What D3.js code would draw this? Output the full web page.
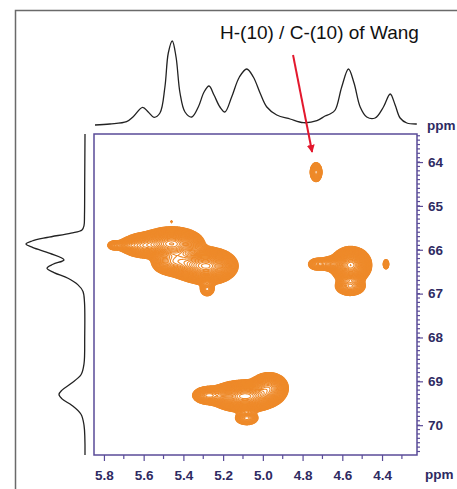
<!DOCTYPE html>
<html><head><meta charset="utf-8">
<script src="https://cdn.jsdelivr.net/npm/d3@7"></script>
<style>body{margin:0;background:#fff} svg{display:block}</style>
</head><body>
<svg id="c" width="457" height="489"></svg>
<script>
// ---------- data ----------
const xTicks = [5.8, 5.6, 5.4, 5.2, 5.0, 4.8, 4.6, 4.4];
const yTicks = [64, 65, 66, 67, 68, 69, 70];
const xDomain = [5.85, 4.224];
const yDomain = [63.36, 70.68];

// 1H projection (top)
const topPpm = [5.845,5.770,5.686,5.654,5.605,5.577,5.548,5.518,5.493,5.476,5.456,5.437,5.417,5.392,5.358,5.325,5.296,5.271,5.246,5.216,5.191,5.157,5.118,5.081,5.048,5.014,4.980,4.930,4.863,4.796,4.728,4.687,4.662,4.636,4.603,4.569,4.541,4.510,4.477,4.435,4.393,4.359,4.334,4.309,4.275,4.225];
const topInt = [0,1,3.3,8,17.7,13,7.7,12,38,72,84,68,32,13,8,18,33,39,30,18,13,28,48,56,48,32,18,10,6,2.3,4.3,9,11,15,38,56,42,18,8,7,18,31,20,7,2,1];

// 13C projection (left)
const leftPpm = [63.36,64.5,65.2,65.45,65.55,65.62,65.72,65.8,65.87,65.95,66.08,66.23,66.33,66.42,66.52,66.65,66.8,66.95,67.2,68.0,68.6,68.85,69.05,69.2,69.3,69.4,69.55,69.75,70.0,70.68];
const leftInt = [0,0.3,0.5,1,3,14,38,53,59,52,35,21,32,38,31,17,7,2,0.5,0.3,1,4,14,23,26,23,13,4,1,0];

// cross peaks (H ppm, C ppm, amplitude, H width, C width)
const peakH   = [4.732, 4.557, 4.56, 4.65, 4.73, 4.38, 5.459, 5.28, 5.28, 5.60, 5.68, 5.75, 5.37, 5.42, 5.47, 5.09, 4.97, 5.276, 5.081, 5.46];
const peakC   = [64.23, 66.35, 66.83, 66.32, 66.33, 66.33, 65.86, 66.37, 66.9, 65.9, 65.9, 65.9, 66.35, 66.2, 66.3, 69.34, 69.14, 69.32, 69.84, 65.36];
const peakAmp = [12, 60, 10, 8, 5, 4, 45, 50, 6, 15, 6, 5, 12, 12, 10, 60, 20, 12, 6, 1.6];
const peakWH  = [0.0134, 0.037, 0.035, 0.04, 0.022, 0.0085, 0.06, 0.056, 0.018, 0.05, 0.03, 0.017, 0.05, 0.05, 0.04, 0.065, 0.04, 0.035, 0.03, 0.004];
const peakWC  = [0.098, 0.15, 0.10, 0.08, 0.07, 0.065, 0.14, 0.155, 0.08, 0.12, 0.065, 0.055, 0.14, 0.15, 0.12, 0.13, 0.14, 0.09, 0.08, 0.02];

const annotation = "H-(10) / C-(10) of Wang";
const arrowStart = [4.848, 61.56];
const arrowEnd = [4.752, 63.77];

// ---------- drawing ----------
const svg = d3.select("#c");
const W = 457, H = 489;
const L = 94, R = 417, T = 134, B = 455;
const purple = "#5a4b98", navy = "#2e2a62", orange = "#ee8a2a";
const font = "Liberation Sans, Arial, sans-serif";

svg.append("rect").attr("width", W).attr("height", H).attr("fill", "#fff");

// outer frame
svg.append("path").attr("d", `M15.5,489 V10.5 H457`).attr("fill", "none")
  .attr("stroke", "#6a6a6a").attr("stroke-width", 1.5);

const x = d3.scaleLinear().domain(xDomain).range([L, R]);
const y = d3.scaleLinear().domain(yDomain).range([T, B]);

// contours
const gw = R - L, gh = B - T;
const vals = new Float64Array(gw * gh);
for (let j = 0; j < gh; j++) {
  const c = y.invert(T + j + 0.5);
  for (let i = 0; i < gw; i++) {
    const h = x.invert(L + i + 0.5);
    let s = 0;
    for (let k = 0; k < peakH.length; k++) {
      const dh = (h - peakH[k]) / peakWH[k], dc = (c - peakC[k]) / peakWC[k];
      s += peakAmp[k] * Math.exp(-0.5 * (dh * dh + dc * dc));
    }
    vals[j * gw + i] = s;
  }
}
const levels = d3.range(0, 46).map(i => Math.pow(1.1, i));
const contours = d3.contours().size([gw, gh]).thresholds(levels)(vals);
svg.append("defs").append("clipPath").attr("id", "clip")
  .append("rect").attr("x", L).attr("y", T).attr("width", gw).attr("height", gh);
svg.append("g").attr("clip-path", "url(#clip)")
  .append("g").attr("transform", `translate(${L},${T})`)
  .selectAll("path").data(contours).join("path")
  .attr("d", d3.geoPath())
  .attr("fill", "none").attr("stroke", orange).attr("stroke-width", 1.1);

// plot box
svg.append("rect").attr("x", L).attr("y", T).attr("width", R - L).attr("height", B - T)
  .attr("fill", "none").attr("stroke", purple).attr("stroke-width", 1.5);

// axes
const xAxis = d3.axisBottom(x).tickValues(xTicks).tickFormat(d3.format(".1f")).tickSize(6).tickPadding(9);
const gx = svg.append("g").attr("transform", `translate(0,${B})`).call(xAxis);
const xMinor = d3.range(5.7, 4.25, -0.2).map(v => +v.toFixed(2));
gx.selectAll(".minor").data(xMinor).join("line").attr("class", "minor")
  .attr("x1", d => x(d)).attr("x2", d => x(d)).attr("y1", 0).attr("y2", 4);

const yAxis = d3.axisRight(y).tickValues(yTicks).tickSize(6).tickPadding(5);
const gy = svg.append("g").attr("transform", `translate(${R},0)`).call(yAxis);
const yMinor = d3.range(63.4, 70.65, 0.1).map(v => +v.toFixed(2));
gy.selectAll(".minor").data(yMinor).join("line").attr("class", "minor")
  .attr("y1", d => y(d)).attr("y2", d => y(d)).attr("x1", 0).attr("x2", 3);

[gx, gy].forEach(g => {
  g.select(".domain").remove();
  g.selectAll("line").attr("stroke", purple).attr("stroke-width", 1.2);
  g.selectAll("text").attr("fill", navy).attr("font-family", font)
    .attr("font-weight", "bold").attr("font-size", 13.5);
});

svg.append("text").attr("x", 427).attr("y", 130).text("ppm")
  .attr("fill", navy).attr("font-family", font).attr("font-weight", "bold").attr("font-size", 13.5);
svg.append("text").attr("x", 425).attr("y", 479).text("ppm")
  .attr("fill", navy).attr("font-family", font).attr("font-weight", "bold").attr("font-size", 13.5);

// top projection
const yTop = d3.scaleLinear().domain([0, 90]).range([125, 35]);
svg.append("path").datum(d3.zip(topPpm, topInt))
  .attr("d", d3.line().x(d => x(d[0])).y(d => yTop(d[1])).curve(d3.curveCatmullRom.alpha(0.5)))
  .attr("fill", "none").attr("stroke", "#222").attr("stroke-width", 1.3);

// left projection
const xLeft = d3.scaleLinear().domain([0, 60]).range([85, 25]);
svg.append("path").datum(d3.zip(leftPpm, leftInt))
  .attr("d", d3.line().y(d => y(d[0])).x(d => xLeft(d[1])).curve(d3.curveCatmullRom.alpha(0.5)))
  .attr("fill", "none").attr("stroke", "#222").attr("stroke-width", 1.3);

// annotation
svg.append("text").attr("x", 220).attr("y", 39).text(annotation)
  .attr("font-family", font).attr("font-size", 19).attr("fill", "#111");
svg.append("defs").append("marker").attr("id", "ah").attr("viewBox", "0 0 10 10")
  .attr("refX", 9).attr("refY", 5).attr("markerWidth", 4).attr("markerHeight", 4).attr("orient", "auto")
  .append("path").attr("d", "M0,0 L10,5 L0,10 z").attr("fill", "#e3182d");
svg.append("line")
  .attr("x1", x(arrowStart[0])).attr("y1", y(arrowStart[1]))
  .attr("x2", x(arrowEnd[0])).attr("y2", y(arrowEnd[1]))
  .attr("stroke", "#e3182d").attr("stroke-width", 2).attr("marker-end", "url(#ah)");
</script>
</body></html>
